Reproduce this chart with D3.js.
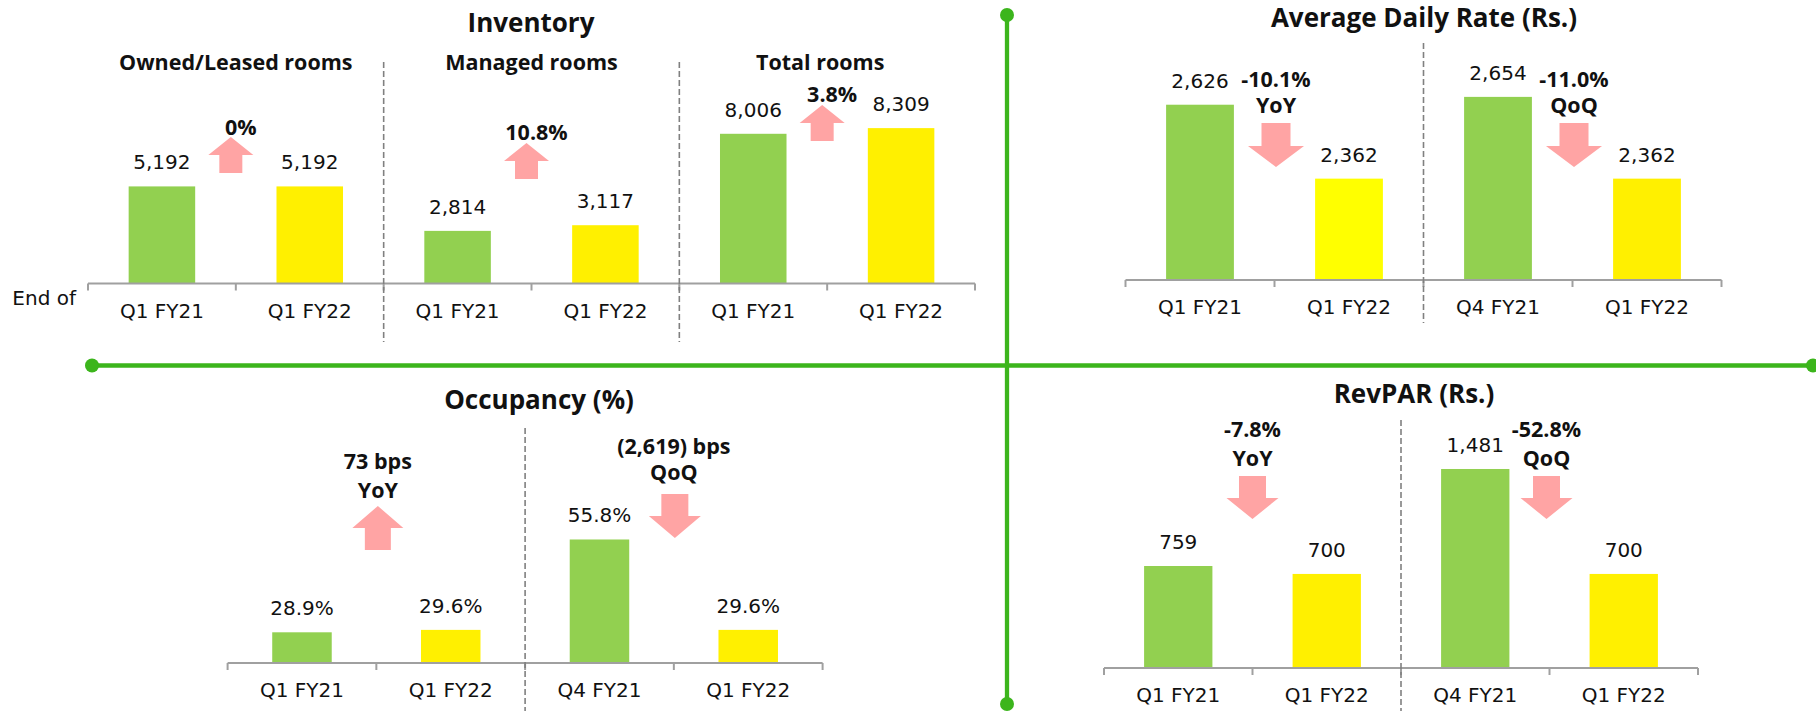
<!DOCTYPE html>
<html>
<head>
<meta charset="utf-8">
<script src="https://cdn.jsdelivr.net/npm/d3@7"></script>
<style>
  body { margin: 0; background: #fff; }
  .lbl { font-family: "DejaVu Sans", sans-serif; font-size: 20px; fill: #111; }
  .bold { font-family: "Open Sans", sans-serif; font-weight: 700; fill: #111; }
</style>
</head>
<body>
<script>
// ---- data ----
var invCategories = ["Q1 FY21", "Q1 FY22", "Q1 FY21", "Q1 FY22", "Q1 FY21", "Q1 FY22"];
var invValues = [5192, 5192, 2814, 3117, 8006, 8309];
var invGroups = ["Owned/Leased rooms", "Managed rooms", "Total rooms"];
var invChanges = ["0%", "10.8%", "3.8%"];

var adrCategories = ["Q1 FY21", "Q1 FY22", "Q4 FY21", "Q1 FY22"];
var adrValues = [2626, 2362, 2654, 2362];
var adrChanges = [["-10.1%", "YoY"], ["-11.0%", "QoQ"]];

var occCategories = ["Q1 FY21", "Q1 FY22", "Q4 FY21", "Q1 FY22"];
var occValues = [28.9, 29.6, 55.8, 29.6];
var occChanges = [["73 bps", "YoY"], ["(2,619) bps", "QoQ"]];

var revCategories = ["Q1 FY21", "Q1 FY22", "Q4 FY21", "Q1 FY22"];
var revValues = [759, 700, 1481, 700];
var revChanges = [["-7.8%", "YoY"], ["-52.8%", "QoQ"]];

var GREEN = "#92D050", YELLOW = "#FFF000", PINK = "#FFA4A4", LINE = "#3CB51C";

var svg = d3.select("body").append("svg")
    .attr("width", 1816).attr("height", 711);

// draws one bar block: bars, value labels, axis with boundary ticks
function panel(o) {
  var x = d3.scaleBand().domain(d3.range(o.values.length)).range([o.x0, o.x1]);
  var y = d3.scaleLinear().domain(o.yDomain).range([o.axisY, o.yTop]);
  var g = svg.append("g");
  var bw = x.bandwidth() * o.barFrac;

  g.selectAll("rect").data(o.values).join("rect")
      .attr("x", function (d, i) { return x(i) + (x.bandwidth() - bw) / 2; })
      .attr("y", function (d) { return y(d); })
      .attr("width", bw)
      .attr("height", function (d) { return o.axisY - y(d); })
      .attr("fill", function (d, i) { return o.colors[i]; });

  g.selectAll("text.val").data(o.values).join("text")
      .attr("class", "lbl val")
      .attr("text-anchor", "middle")
      .attr("x", function (d, i) { return x(i) + x.bandwidth() / 2; })
      .attr("y", function (d) { return y(d) - 17; })
      .text(o.fmt);

  var ax = g.append("g")
      .attr("transform", "translate(0," + o.axisY + ")")
      .call(d3.axisBottom(x).tickSize(0).tickFormat(function (i) { return o.cats[i]; }));
  ax.select(".domain").remove();
  ax.selectAll("text").attr("class", "lbl").attr("y", 34).attr("dy", null)
      .style("font-family", null).style("font-size", null);
  ax.attr("font-family", null).attr("font-size", null);

  var edges = d3.range(o.values.length + 1).map(function (i) { return o.x0 + i * x.step(); });
  g.append("line").attr("x1", o.x0).attr("x2", o.x1).attr("y1", o.axisY).attr("y2", o.axisY)
      .attr("stroke", "#a0a0a0").attr("stroke-width", 2);
  g.selectAll("line.tk").data(edges).join("line")
      .attr("class", "tk")
      .attr("x1", function (d) { return d; }).attr("x2", function (d) { return d; })
      .attr("y1", o.axisY).attr("y2", o.axisY + 7)
      .attr("stroke", "#a0a0a0").attr("stroke-width", 2);

  (o.dividers || []).forEach(function (k) {
    g.append("line").attr("x1", edges[k]).attr("x2", edges[k])
        .attr("y1", o.divTop).attr("y2", o.divBottom)
        .attr("stroke", "#808080").attr("stroke-width", 1.6)
        .attr("stroke-dasharray", "6,3");
  });

  svg.append("text").attr("class", "bold")
      .attr("x", o.titleX).attr("y", o.titleY)
      .attr("text-anchor", "middle").attr("font-size", 26)
      .text(o.title);

  return { x: x, y: y, edges: edges };
}

function arrow(cx, top, a, dir) {
  var w = a.w / 2, s = a.sw / 2, h = a.h, hh = a.hh, pts;
  if (dir === "up") {
    pts = [[cx, top], [cx + w, top + hh], [cx + s, top + hh], [cx + s, top + h],
           [cx - s, top + h], [cx - s, top + hh], [cx - w, top + hh]];
  } else {
    pts = [[cx - s, top], [cx + s, top], [cx + s, top + h - hh], [cx + w, top + h - hh],
           [cx, top + h], [cx - w, top + h - hh], [cx - s, top + h - hh]];
  }
  svg.append("path").attr("d", d3.line()(pts) + "Z").attr("fill", PINK);
}

function note(cx, base, txt) {
  svg.append("text").attr("class", "bold").attr("font-size", 21.5)
      .attr("text-anchor", "middle").attr("x", cx).attr("y", base).text(txt);
}

var fmtNum = d3.format(",");
var fmtPct = function (d) { return d3.format(".1f")(d) + "%"; };

// ---- Inventory ----
var inv = panel({
  cats: invCategories, values: invValues, fmt: fmtNum,
  x0: 88, x1: 975, axisY: 283.5, yDomain: [0, 10000], yTop: 96.5, barFrac: 0.45,
  colors: [GREEN, YELLOW, GREEN, YELLOW, GREEN, YELLOW],
  dividers: [2, 4], divTop: 62, divBottom: 342,
  title: "Inventory", titleX: 531, titleY: 32
});
var invArrowTop = [137, 143, 105], invNoteBase = [135, 140, 102];
invGroups.forEach(function (name, k) {
  var mid = inv.edges[2 * k + 1];
  svg.append("text").attr("class", "bold").attr("font-size", 21.5)
      .attr("text-anchor", "middle")
      .attr("x", (inv.edges[2 * k] + inv.edges[2 * k + 2]) / 2 - (k === 2 ? 7 : 0))
      .attr("y", 70).text(name);
  arrow(mid - 5, invArrowTop[k], { w: 45, sw: 23, h: 36, hh: 18 }, "up");
  note(mid + 5, invNoteBase[k], invChanges[k]);
});
svg.append("text").attr("class", "lbl").attr("text-anchor", "end")
    .attr("x", 76).attr("y", 305).text("End of");

// ---- Average Daily Rate ----
var adr = panel({
  cats: adrCategories, values: adrValues, fmt: fmtNum,
  x0: 1125.5, x1: 1721.5, axisY: 280, yDomain: [2000, 2700], yTop: 84, barFrac: 0.455,
  colors: [GREEN, "#FFFF00", GREEN, YELLOW],
  dividers: [2], divTop: 43, divBottom: 323,
  title: "Average Daily Rate (Rs.)", titleX: 1424, titleY: 27
});
adrChanges.forEach(function (c, k) {
  var cx = adr.edges[2 * k + 1] + 1.5;
  note(cx, 87, c[0]);
  note(cx, 113, c[1]);
  arrow(cx, 123, { w: 56, sw: 29, h: 44, hh: 21 }, "down");
});

// ---- Occupancy ----
var occ = panel({
  cats: occCategories, values: occValues, fmt: fmtPct,
  x0: 227.6, x1: 822.6, axisY: 663, yDomain: [20, 60], yTop: 525, barFrac: 0.4,
  colors: [GREEN, YELLOW, GREEN, YELLOW],
  dividers: [2], divTop: 428, divBottom: 711,
  title: "Occupancy (%)", titleX: 539, titleY: 409
});
note(occ.edges[1] + 1.5, 469, occChanges[0][0]);
note(occ.edges[1] + 1.5, 498, occChanges[0][1]);
arrow(occ.edges[1] + 1.5, 506, { w: 51, sw: 26, h: 44, hh: 22 }, "up");
note(occ.edges[3], 454, occChanges[1][0]);
note(occ.edges[3], 480, occChanges[1][1]);
arrow(occ.edges[3] + 1, 494, { w: 52, sw: 27, h: 44, hh: 22 }, "down");

// ---- RevPAR ----
var rev = panel({
  cats: revCategories, values: revValues, fmt: fmtNum,
  x0: 1104, x1: 1698, axisY: 668, yDomain: [0, 1600], yTop: 453, barFrac: 0.46,
  colors: [GREEN, YELLOW, GREEN, YELLOW],
  dividers: [2], divTop: 420, divBottom: 711,
  title: "RevPAR (Rs.)", titleX: 1414, titleY: 403
});
var revDx = [0, -3];
revChanges.forEach(function (c, k) {
  var cx = rev.edges[2 * k + 1] + revDx[k];
  note(cx, 437, c[0]);
  note(cx, 466, c[1]);
  arrow(cx, 476, { w: 52, sw: 27, h: 43, hh: 21 }, "down");
});

// ---- green cross separating the four blocks ----
var cross = svg.append("g");
cross.append("line").attr("x1", 1007).attr("x2", 1007).attr("y1", 15).attr("y2", 704)
    .attr("stroke", LINE).attr("stroke-width", 4.3);
cross.append("line").attr("x1", 92).attr("x2", 1813).attr("y1", 365.5).attr("y2", 365.5)
    .attr("stroke", LINE).attr("stroke-width", 4.3);
[[1007, 15], [1007, 704], [92, 365.5], [1813, 365.5]].forEach(function (p) {
  cross.append("circle").attr("cx", p[0]).attr("cy", p[1]).attr("r", 7).attr("fill", LINE);
});
</script>
</body>
</html>
